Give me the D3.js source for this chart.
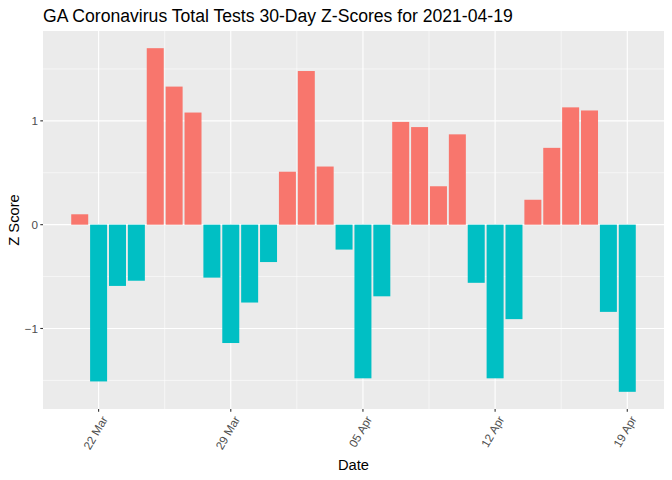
<!DOCTYPE html>
<html>
<head>
<meta charset="utf-8">
<script src="https://cdn.jsdelivr.net/npm/d3@7"></script>
<style>
  body { margin: 0; background: #fff; }
  text { font-family: "Liberation Sans", Arial, sans-serif; }
</style>
</head>
<body>
<svg id="chart" width="672" height="480"></svg>
<script>
// 30 days of z-scores, 2021-03-21 .. 2021-04-19
const startDate = "2021-03-21";
const zScores = [
  0.10, -1.51, -0.59, -0.54, 1.70, 1.33, 1.08, -0.51, -1.14, -0.75,
  -0.36, 0.51, 1.48, 0.56, -0.24, -1.48, -0.69, 0.99, 0.94, 0.37,
  0.87, -0.56, -1.48, -0.91, 0.24, 0.74, 1.13, 1.10, -0.84, -1.61
];
const yTicks = [-1, 0, 1];
const yMinor = [-1.5, -0.5, 0.5, 1.5];
const xTickDates = ["2021-03-22", "2021-03-29", "2021-04-05", "2021-04-12", "2021-04-19"];
const titleText = "GA Coronavirus Total Tests 30-Day Z-Scores for 2021-04-19";

const parse = d3.utcParse("%Y-%m-%d");
const day = 864e5;
const t0 = parse(startDate);
const data = zScores.map((v, i) => ({ date: new Date(+t0 + i * day), z: v }));

const svg = d3.select("#chart");
const panel = { left: 43, right: 664, top: 31, bottom: 409 };

// ggplot-ish expansion: bar extent +/- 0.45 day, then 5% on each side
const lo = +data[0].date - 0.45 * day, hi = +data[data.length - 1].date + 0.45 * day;
const pad = (hi - lo) * 0.05;
const x = d3.scaleUtc()
  .domain([new Date(lo - pad), new Date(hi + pad)])
  .range([panel.left, panel.right]);

const zExt = d3.extent(zScores.concat([0]));
const zPad = (zExt[1] - zExt[0]) * 0.05;
const y = d3.scaleLinear()
  .domain([zExt[0] - zPad, zExt[1] + zPad])
  .range([panel.bottom, panel.top]);

// panel background
svg.append("rect")
  .attr("x", panel.left).attr("y", panel.top)
  .attr("width", panel.right - panel.left).attr("height", panel.bottom - panel.top)
  .attr("fill", "#EBEBEB");

const xTicks = xTickDates.map(parse);
const xMinor = [];
for (let i = 0; i < xTicks.length; i++) {
  xMinor.push(new Date(+xTicks[i] - 3.5 * day));
}
xMinor.push(new Date(+xTicks[xTicks.length - 1] + 3.5 * day));
const xMinorIn = xMinor.filter(d => x(d) > panel.left && x(d) < panel.right);

// grid
const grid = svg.append("g");
grid.selectAll("line.ymin").data(yMinor).join("line")
  .attr("x1", panel.left).attr("x2", panel.right)
  .attr("y1", d => y(d)).attr("y2", d => y(d))
  .attr("stroke", "#fff").attr("stroke-width", 0.55);
grid.selectAll("line.xmin").data(xMinorIn).join("line")
  .attr("y1", panel.top).attr("y2", panel.bottom)
  .attr("x1", d => x(d)).attr("x2", d => x(d))
  .attr("stroke", "#fff").attr("stroke-width", 0.55);
grid.selectAll("line.ymaj").data(yTicks).join("line")
  .attr("x1", panel.left).attr("x2", panel.right)
  .attr("y1", d => y(d)).attr("y2", d => y(d))
  .attr("stroke", "#fff").attr("stroke-width", 1.1);
grid.selectAll("line.xmaj").data(xTicks).join("line")
  .attr("y1", panel.top).attr("y2", panel.bottom)
  .attr("x1", d => x(d)).attr("x2", d => x(d))
  .attr("stroke", "#fff").attr("stroke-width", 1.1);

// bars
svg.selectAll("rect.bar").data(data).join("rect")
  .attr("class", "bar")
  .attr("x", d => x(new Date(+d.date - 0.45 * day)))
  .attr("width", d => x(new Date(+d.date + 0.45 * day)) - x(new Date(+d.date - 0.45 * day)))
  .attr("y", d => y(Math.max(0, d.z)))
  .attr("height", d => Math.abs(y(d.z) - y(0)))
  .attr("fill", d => d.z > 0 ? "#F8766D" : "#00BFC4");

// y axis
const yAxis = svg.append("g");
yAxis.selectAll("line").data(yTicks).join("line")
  .attr("x1", panel.left - 2.7).attr("x2", panel.left)
  .attr("y1", d => y(d)).attr("y2", d => y(d))
  .attr("stroke", "#333333").attr("stroke-width", 1.1);
yAxis.selectAll("text").data(yTicks).join("text")
  .attr("x", panel.left - 5).attr("y", d => y(d))
  .attr("dy", "0.35em")
  .attr("text-anchor", "end")
  .attr("font-size", 11.7).attr("fill", "#4D4D4D")
  .text(d => d3.format("d")(d).replace("-", "-"));

// x axis
const xAxis = svg.append("g");
const fmt = d3.utcFormat("%d %b");
xAxis.selectAll("line").data(xTicks).join("line")
  .attr("y1", panel.bottom).attr("y2", panel.bottom + 2.7)
  .attr("x1", d => x(d)).attr("x2", d => x(d))
  .attr("stroke", "#333333").attr("stroke-width", 1.1);
xAxis.selectAll("text").data(xTicks).join("text")
  .attr("transform", d => `translate(${x(d) + 6},${panel.bottom + 8}) rotate(-60)`)
  .attr("text-anchor", "end")
  .attr("dy", "0.35em")
  .attr("font-size", 11.7).attr("fill", "#4D4D4D")
  .text(d => fmt(d));

// titles
svg.append("text")
  .attr("x", panel.left).attr("y", 22)
  .attr("font-size", 17.6).attr("fill", "#000")
  .text(titleText);
svg.append("text")
  .attr("x", (panel.left + panel.right) / 2).attr("y", 470)
  .attr("text-anchor", "middle")
  .attr("font-size", 14.7).attr("fill", "#000")
  .text("Date");
svg.append("text")
  .attr("transform", `translate(19,${(panel.top + panel.bottom) / 2}) rotate(-90)`)
  .attr("text-anchor", "middle")
  .attr("font-size", 14.7).attr("fill", "#000")
  .text("Z Score");
</script>
</body>
</html>
